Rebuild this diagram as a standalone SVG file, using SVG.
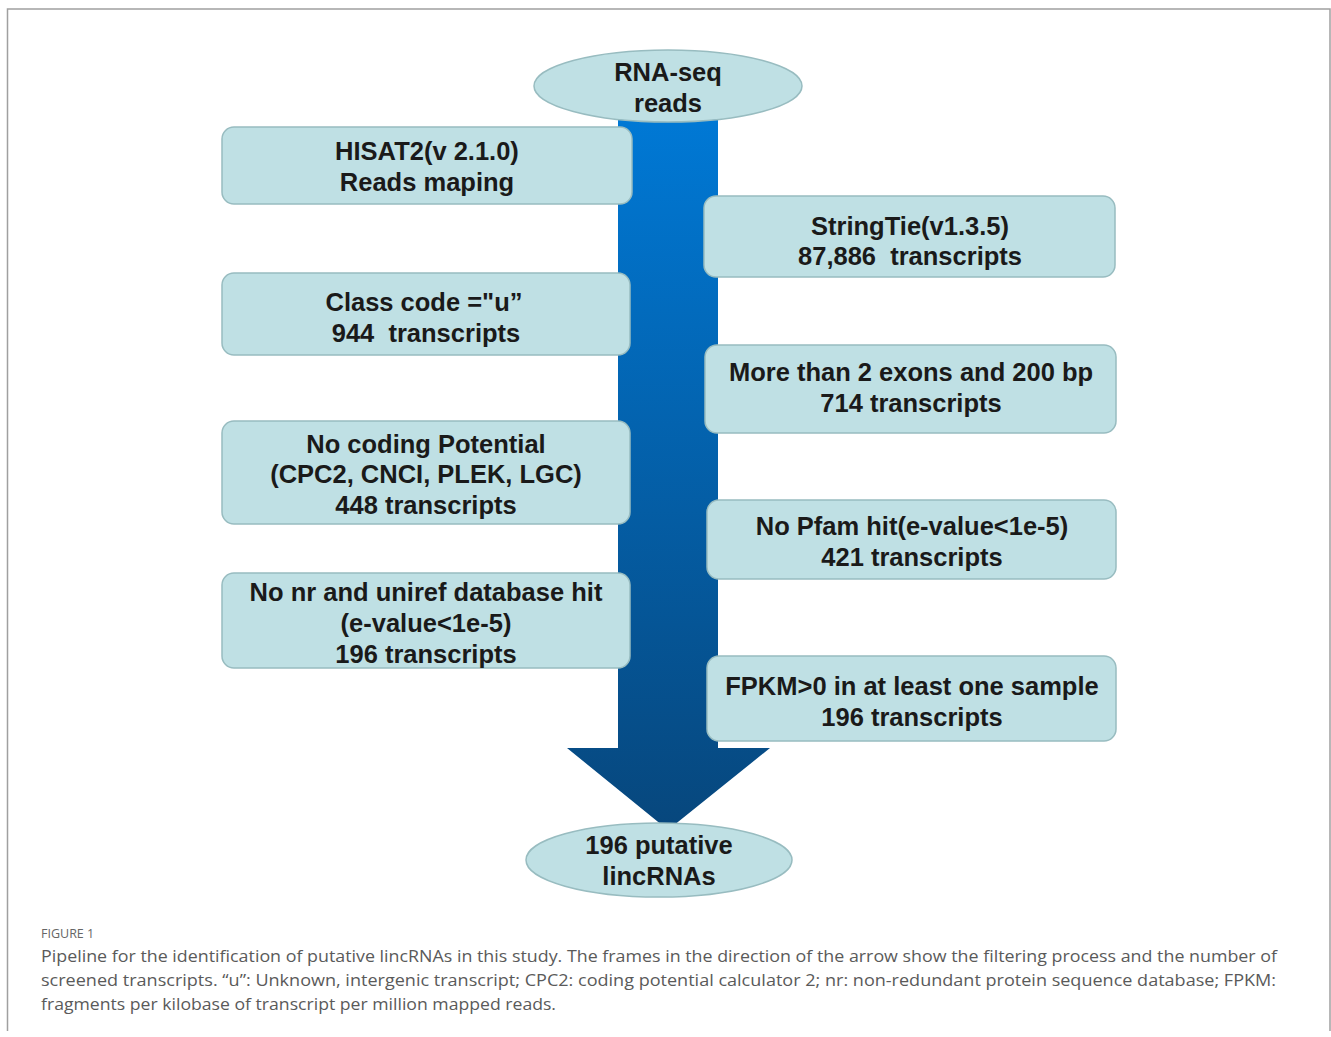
<svg xmlns="http://www.w3.org/2000/svg" width="1331" height="1037" viewBox="0 0 1331 1037">
<defs>
<linearGradient id="ag" x1="0" y1="110" x2="0" y2="825" gradientUnits="userSpaceOnUse">
<stop offset="0" stop-color="#0079d6"/>
<stop offset="1" stop-color="#07477d"/>
</linearGradient>
</defs>
<style>
.box{fill:#bfe0e4;stroke:#98bcc0;stroke-width:1.5}
.t{font-family:"Liberation Sans",Arial,sans-serif;font-weight:bold;font-size:25.5px;fill:#1a1a1a;text-anchor:middle;white-space:pre}
.cap{font-family:"Open Sans","Noto Sans",sans-serif;font-size:17px;fill:#5a5a5a}
.fig{font-family:"Open Sans","Noto Sans",sans-serif;font-size:12.5px;fill:#666}
.frame{stroke:#a0a0a0;stroke-width:1.5;fill:none}
</style>
<rect width="1331" height="1037" fill="#fff"/>
<path class="frame" d="M7.5 1031 V9 H1330 V1031"/>
<g id="connectors">
<path d="M618 110 H718 V748 H770 L668 830 L567 748 H618 Z" fill="url(#ag)"/>
</g>
<g id="n-rnaseq">
<ellipse class="box" cx="668" cy="86" rx="134" ry="36"/>
<text class="t" x="668" y="81">RNA-seq</text>
<text class="t" x="668" y="112">reads</text>
</g>
<g id="n-hisat">
<rect class="box" x="222" y="127" width="410" height="77" rx="12"/>
<text class="t" x="427" y="160">HISAT2(v 2.1.0)</text>
<text class="t" x="427" y="191">Reads maping</text>
</g>
<g id="n-stringtie">
<rect class="box" x="704" y="196" width="411" height="81" rx="12"/>
<text class="t" x="910" y="235">StringTie(v1.3.5)</text>
<text class="t" x="910" y="265" xml:space="preserve">87,886  transcripts</text>
</g>
<g id="n-classcode">
<rect class="box" x="222" y="273" width="408" height="82" rx="12"/>
<text class="t" x="424" y="311">Class code ="u”</text>
<text class="t" x="426" y="342" xml:space="preserve">944  transcripts</text>
</g>
<g id="n-exons">
<rect class="box" x="705" y="345" width="411" height="88" rx="12"/>
<text class="t" x="911" y="381">More than 2 exons and 200 bp</text>
<text class="t" x="911" y="412">714 transcripts</text>
</g>
<g id="n-coding">
<rect class="box" x="222" y="421" width="408" height="103" rx="12"/>
<text class="t" x="426" y="453">No coding Potential</text>
<text class="t" x="426" y="483">(CPC2, CNCI, PLEK, LGC)</text>
<text class="t" x="426" y="514">448 transcripts</text>
</g>
<g id="n-pfam">
<rect class="box" x="707" y="500" width="409" height="79" rx="12"/>
<text class="t" x="912" y="535">No Pfam hit(e-value&lt;1e-5)</text>
<text class="t" x="912" y="566">421 transcripts</text>
</g>
<g id="n-nr">
<rect class="box" x="222" y="573" width="408" height="95" rx="12"/>
<text class="t" x="426" y="601">No nr and uniref database hit</text>
<text class="t" x="426" y="632">(e-value&lt;1e-5)</text>
<text class="t" x="426" y="663">196 transcripts</text>
</g>
<g id="n-fpkm">
<rect class="box" x="707" y="656" width="409" height="85" rx="12"/>
<text class="t" x="912" y="695">FPKM&gt;0 in at least one sample</text>
<text class="t" x="912" y="726">196 transcripts</text>
</g>
<g id="n-lincrna">
<ellipse class="box" cx="659" cy="860" rx="133" ry="37"/>
<text class="t" x="659" y="854">196 putative</text>
<text class="t" x="659" y="885">lincRNAs</text>
</g>
<g id="caption">
<text class="fig" x="41" y="938">FIGURE 1</text>
<text class="cap" x="41" y="962" textLength="1236" lengthAdjust="spacingAndGlyphs">Pipeline for the identification of putative lincRNAs in this study. The frames in the direction of the arrow show the filtering process and the number of</text>
<text class="cap" x="41" y="986" textLength="1235" lengthAdjust="spacingAndGlyphs">screened transcripts. “u”: Unknown, intergenic transcript; CPC2: coding potential calculator 2; nr: non-redundant protein sequence database; FPKM:</text>
<text class="cap" x="41" y="1010" textLength="515" lengthAdjust="spacingAndGlyphs">fragments per kilobase of transcript per million mapped reads.</text>
</g>
</svg>
